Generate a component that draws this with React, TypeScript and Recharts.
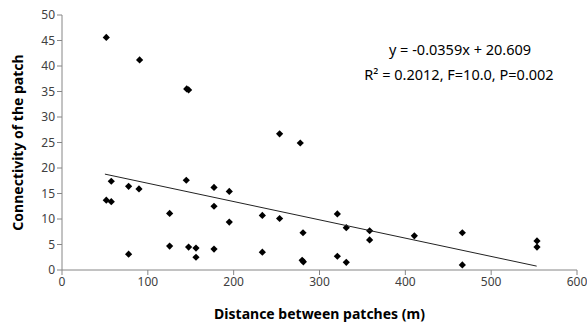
import React from 'react';
import { ScatterChart, Scatter, XAxis, YAxis, Label } from 'recharts';

const distances = [51.6, 90.4, 145.3, 147.5, 253.5, 277.6, 51.6, 57.4, 57.4, 77.6, 89.7, 77.6, 125.4, 125.4, 144.8, 147.5, 156.1, 156.1, 177.1, 177.1, 177.1, 194.9, 194.9, 233.4, 233.4, 253.5, 280.8, 279.8, 281.2, 320.8, 320.8, 331.2, 331.2, 358.4, 358.4, 410.5, 466.4, 466.4, 553.4, 553.4];
const connectivity = [45.6, 41.2, 35.5, 35.3, 26.7, 24.9, 13.7, 13.4, 17.4, 16.4, 15.9, 3.1, 11.1, 4.7, 17.6, 4.5, 4.3, 2.5, 16.2, 12.5, 4.1, 15.4, 9.4, 10.7, 3.5, 10.1, 7.3, 1.9, 1.6, 11.0, 2.7, 8.3, 1.5, 7.7, 5.9, 6.7, 7.3, 1.0, 5.7, 4.5];
const trendX = [50, 553];
const trendY = [18.8, 0.76];
const xTicks = [0, 100, 200, 300, 400, 500, 600];
const yTicks = [0, 5, 10, 15, 20, 25, 30, 35, 40, 45, 50];

const points = distances.map((x, i) => ({ x, y: connectivity[i] }));
const trend = trendX.map((x, i) => ({ x, y: trendY[i] }));

const FONT = '"Noto Sans", "DejaVu Sans", sans-serif';

const Diamond = (props: any) => {
  const { cx, cy } = props;
  const r = 3.6;
  return (
    <polygon
      points={`${cx},${cy - r} ${cx + r},${cy} ${cx},${cy + r} ${cx - r},${cy}`}
      fill="#000"
    />
  );
};

export default function App() {
  return (
    <div style={{ position: 'absolute', left: 0, top: 0, background: '#fff' }}>
      <ScatterChart width={587} height={327} margin={{ top: 15, right: 10, left: 0, bottom: 27 }}>
        <XAxis
          type="number"
          dataKey="x"
          domain={[0, 600]}
          ticks={xTicks}
          interval={0}
          axisLine={{ stroke: '#868686' }}
          tickLine={{ stroke: '#868686' }}
          tickSize={5}
          tick={{ fill: '#404040', fontSize: 12, fontFamily: FONT }}
          height={30}
        >
          <Label
            value="Distance between patches (m)"
            position="bottom"
            offset={9}
            style={{ fontFamily: FONT, fontSize: 14, fontWeight: 'bold', fill: '#000' }}
          />
        </XAxis>
        <YAxis
          type="number"
          dataKey="y"
          domain={[0, 50]}
          ticks={yTicks}
          interval={0}
          axisLine={{ stroke: '#868686' }}
          tickLine={{ stroke: '#868686' }}
          tickSize={5}
          tick={{ fill: '#404040', fontSize: 12, fontFamily: FONT }}
          width={62}
        >
          <Label
            value="Connectivity of the patch"
            angle={-90}
            position="insideLeft"
            offset={18}
            style={{ fontFamily: FONT, fontSize: 14, fontWeight: 'bold', fill: '#000', textAnchor: 'middle' }}
          />
        </YAxis>
        <Scatter data={points} shape={<Diamond />} isAnimationActive={false} />
        <Scatter
          data={trend}
          line={{ stroke: '#222', strokeWidth: 1 }}
          shape={() => null}
          isAnimationActive={false}
        />
        <text x={460} y={55} textAnchor="middle" style={{ fontFamily: FONT, fontSize: 14.5, fill: '#000', whiteSpace: 'pre' }}>
          y = -0.0359x + 20.609
        </text>
        <text x={459} y={80} textAnchor="middle" style={{ fontFamily: FONT, fontSize: 14.5, fill: '#000' }}>
          R² = 0.2012, F=10.0, P=0.002
        </text>
      </ScatterChart>
    </div>
  );
}
